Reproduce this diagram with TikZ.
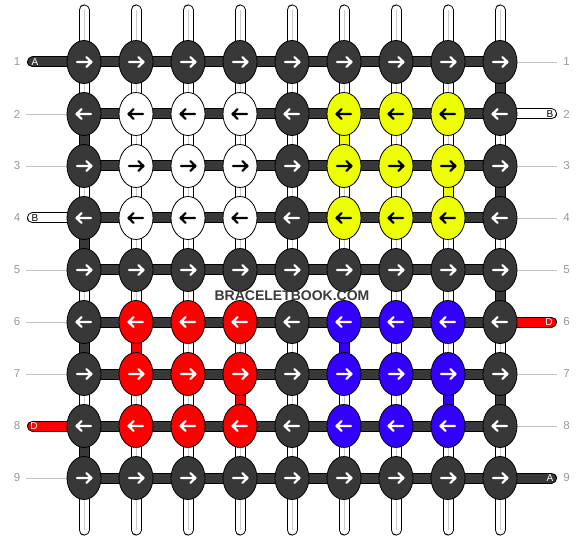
\documentclass[tikz,border=0pt]{standalone}
\usepackage{fontspec}
\setmainfont{Liberation Sans}
\usetikzlibrary{shapes.geometric}
\definecolor{kfD}{HTML}{383838}
\definecolor{kfW}{HTML}{FFFFFF}
\definecolor{kfY}{HTML}{EEFF00}
\definecolor{kfR}{HTML}{FF0000}
\definecolor{kfB}{HTML}{3300FF}
\definecolor{acD}{HTML}{FFFFFF}
\definecolor{acW}{HTML}{000000}
\definecolor{acY}{HTML}{000000}
\definecolor{acR}{HTML}{FFFFFF}
\definecolor{acB}{HTML}{FFFFFF}
\definecolor{numgray}{HTML}{999999}
\definecolor{linegray}{HTML}{C4C4C4}
\definecolor{strgray}{HTML}{C8C8C8}
\definecolor{wmark}{HTML}{3A3A3A}
\tikzset{
  knot/.style={ellipse, minimum width=34pt, minimum height=43pt, inner sep=0pt, draw=black, line width=0.8pt},
  arr/.style={line width=2.2pt, line cap=round, line join=round},
  outerband/.style={draw=black, line width=11pt},
  innerband/.style={line width=9pt},
  rownum/.style={text=numgray, font=\fontsize{11.5}{12}\selectfont, inner sep=0pt},
  stublabel/.style={font=\fontsize{10}{10}\selectfont, inner sep=0pt},
  guide/.style={draw=linegray, line width=0.8pt},
  watermark/.style={text=wmark, font=\fontsize{14}{14}\bfseries\selectfont, inner sep=0pt}
}
\begin{document}
\begin{tikzpicture}[x=1pt,y=-1pt]
\useasboundingbox (0,0) rectangle (584,540);
\fill[white] (0,0) rectangle (584,540);
% grid points
\foreach \r in {1,...,9} {
  \foreach \c in {1,...,9} {
    \coordinate (p-\r-\c) at ({84+52*(\c-1)},{62+52*(\r-1)});
  }
}
\foreach \c in {1,...,9} {
  \coordinate (t-\c) at ({84+52*(\c-1)},10);
  \coordinate (b-\c) at ({84+52*(\c-1)},530);
}
% vertical strings
\foreach \c in {1,...,9} {
  \draw[outerband, line cap=round] (t-\c) -- (b-\c);
  \draw[innerband, white, line cap=round] (t-\c) -- (b-\c);
  \draw[strgray, line width=1pt] (t-\c) -- (b-\c);
}
% horizontal bars
\foreach \r in {1,...,9} {
  \draw[outerband] (p-\r-1) -- (p-\r-9);
  \draw[innerband, kfD] (p-\r-1) -- (p-\r-9);
}
% vertical coloured segments
\foreach \r/\s/\c/\k in {1/2/9/D, 2/3/1/D, 3/4/9/D, 4/5/1/D, 5/6/9/D, 6/7/1/D, 7/8/9/D, 8/9/1/D,
                         2/3/6/Y, 3/4/8/Y, 6/7/2/R, 7/8/4/R, 6/7/6/B, 7/8/8/B} {
  \draw[outerband] (p-\r-\c) -- (p-\s-\c);
  \draw[innerband, color=kf\k] (p-\r-\c) -- (p-\s-\c);
}
% stubs
\foreach \r/\k in {1/D, 4/W, 8/R} {
  \coordinate (ls-\r) at (32.5,{62+52*(\r-1)});
  \draw[outerband, line cap=round] (ls-\r) -- (p-\r-1);
  \draw[innerband, line cap=round, color=kf\k] (ls-\r) -- (p-\r-1);
}
\foreach \r/\k in {2/W, 6/R, 9/D} {
  \coordinate (rs-\r) at (551.5,{62+52*(\r-1)});
  \draw[outerband, line cap=round] (rs-\r) -- (p-\r-9);
  \draw[innerband, line cap=round, color=kf\k] (rs-\r) -- (p-\r-9);
}
% guide lines for rows without stubs
\foreach \r in {2,3,5,6,7,9} {
  \coordinate (lg-\r) at (26,{62+52*(\r-1)});
  \draw[guide] (lg-\r) -- (p-\r-1);
}
\foreach \r in {1,3,4,5,7,8} {
  \coordinate (rg-\r) at (557,{62+52*(\r-1)});
  \draw[guide] (rg-\r) -- (p-\r-9);
}
% white backing of the watermark
\fill[white] (214,290.5) rectangle (370,301.5);
% knots and arrows
\foreach \r/\d/\a/\b in {1/1/D/D, 2/-1/W/Y, 3/1/W/Y, 4/-1/W/Y, 5/1/D/D, 6/-1/R/B, 7/1/R/B, 8/-1/R/B, 9/1/D/D} {
  \foreach \c/\k in {1/D, 2/\a, 3/\a, 4/\a, 5/D, 6/\b, 7/\b, 8/\b, 9/D} {
    \node[knot, fill=kf\k] (k-\r-\c) at (p-\r-\c) {};
    \draw[arr, color=ac\k, shift={(k-\r-\c.center)}, xscale=\d] (-7,0) -- (7,0) (2.5,-4.8) -- (7.5,0) -- (2.5,4.8);
  }
}
% row numbers
\foreach \r in {1,...,9} {
  \node[rownum] (nl-\r) at (17,{62+52*(\r-1)}) {\r};
  \node[rownum] (nr-\r) at (566.5,{62+52*(\r-1)}) {\r};
}
% stub labels
\node[stublabel, text=white] (la-1) at (35,62) {A};
\node[stublabel, text=black] (la-4) at (35,218) {B};
\node[stublabel, text=white] (la-8) at (34,426) {D};
\node[stublabel, text=black] (ra-2) at (550,114) {B};
\node[stublabel, text=white] (ra-6) at (549,322) {D};
\node[stublabel, text=white] (ra-9) at (550,478) {A};
% watermark
\node[watermark] (wm) at (292,296) {BRACELETBOOK.COM};
\end{tikzpicture}
\end{document}
